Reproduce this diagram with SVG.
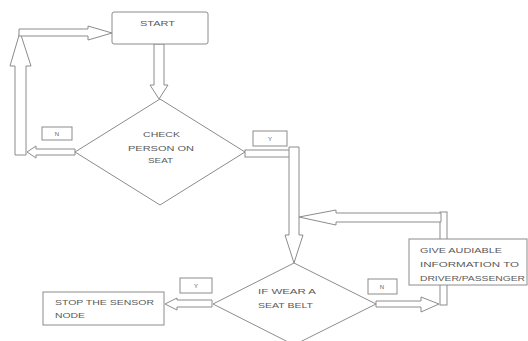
<svg xmlns="http://www.w3.org/2000/svg" width="528" height="341" viewBox="0 0 528 341">
  <style>
    .shape { fill: #ffffff; stroke: #8c8c8c; stroke-width: 1; }
    .arrow { fill: #ffffff; stroke: #8c8c8c; stroke-width: 1; stroke-linejoin: miter; }
    .txt { font-family: "Liberation Sans", Arial, sans-serif; font-size: 8px; fill: #5a5a5a; }
    .lbl { font-family: "Liberation Sans", Arial, sans-serif; font-size: 6px; fill: #5a5a5a; text-anchor: middle; }
  </style>
  <rect width="528" height="341" fill="#ffffff"/>

  <!-- block arrows -->
  <g id="connectors">
    <!-- START down to check -->
    <polygon class="arrow" points="154,44 164,44 164,85 168,85 159,99 150,85 154,85"/>
    <!-- check: N branch to the left -->
    <polygon class="arrow" points="75,149 36,149 36,146 27,152 36,158 36,155 75,155"/>
    <!-- return column up -->
    <polygon class="arrow" points="15,155 26,155 26,66 31,66 20,32 10,66 15,66"/>
    <!-- back into START -->
    <polygon class="arrow" points="19,29 88,29 88,26 112,33 88,40 88,36 19,36"/>
    <!-- check: Y branch to the right, then down -->
    <rect class="arrow" x="245" y="150" width="45" height="7"/>
    <polygon class="arrow" points="289,147 299,147 299,235 303,235 294,263 285,235 289,235"/>
    <!-- loop back from the warning column -->
    <rect class="arrow" x="440" y="212" width="7" height="93"/>
    <polygon class="arrow" points="441,213 336,213 336,210 299,217 336,225 336,222 441,222"/>
    <!-- seat belt: N branch to warning -->
    <polygon class="arrow" points="376,301 421,301 421,297 439,304 421,312 421,307 376,307"/>
    <!-- seat belt: Y branch to stop -->
    <polygon class="arrow" points="212,300 177,300 177,298 165,304 177,310 177,307 212,307"/>
  </g>

  <g id="start">
    <rect class="shape" x="112" y="12" width="96" height="32" rx="2"/>
    <text class="txt" x="140" y="26" textLength="35" lengthAdjust="spacingAndGlyphs">START</text>
  </g>

  <g id="check-person">
    <polygon class="shape" points="160,99 245,152 160,205 75,152"/>
    <text class="txt" x="143" y="137" textLength="37" lengthAdjust="spacingAndGlyphs">CHECK</text>
    <text class="txt" x="128" y="151" textLength="66" lengthAdjust="spacingAndGlyphs">PERSON ON</text>
    <text class="txt" x="148" y="163" textLength="25" lengthAdjust="spacingAndGlyphs">SEAT</text>
  </g>

  <g id="label-n1">
    <rect class="shape" x="42" y="127" width="30" height="13"/>
    <text class="lbl" x="57" y="136">N</text>
  </g>

  <g id="label-y1">
    <rect class="shape" x="253" y="131" width="34" height="15"/>
    <text class="lbl" x="270" y="141">Y</text>
  </g>

  <g id="seat-belt">
    <polygon class="shape" points="294,263 376,304 294,345 213,304"/>
    <text class="txt" x="258" y="294" textLength="58" lengthAdjust="spacingAndGlyphs">IF WEAR A</text>
    <text class="txt" x="258" y="308" textLength="55" lengthAdjust="spacingAndGlyphs">SEAT BELT</text>
  </g>

  <g id="label-y2">
    <rect class="shape" x="180" y="278" width="32" height="15"/>
    <text class="lbl" x="196" y="288">Y</text>
  </g>

  <g id="label-n2">
    <rect class="shape" x="368" y="279" width="29" height="15"/>
    <text class="lbl" x="382" y="289">N</text>
  </g>

  <g id="stop-node">
    <rect class="shape" x="43" y="292" width="121" height="33"/>
    <text class="txt" x="55" y="305" textLength="99" lengthAdjust="spacingAndGlyphs">STOP THE SENSOR</text>
    <text class="txt" x="55" y="318" textLength="30" lengthAdjust="spacingAndGlyphs">NODE</text>
  </g>

  <g id="give-info">
    <rect class="shape" x="409" y="239" width="118" height="46"/>
    <text class="txt" x="420" y="253" textLength="82" lengthAdjust="spacingAndGlyphs">GIVE AUDIABLE</text>
    <text class="txt" x="420" y="267" textLength="99" lengthAdjust="spacingAndGlyphs">INFORMATION TO</text>
    <text class="txt" x="420" y="281" textLength="105" lengthAdjust="spacingAndGlyphs">DRIVER/PASSENGER</text>
  </g>
</svg>
